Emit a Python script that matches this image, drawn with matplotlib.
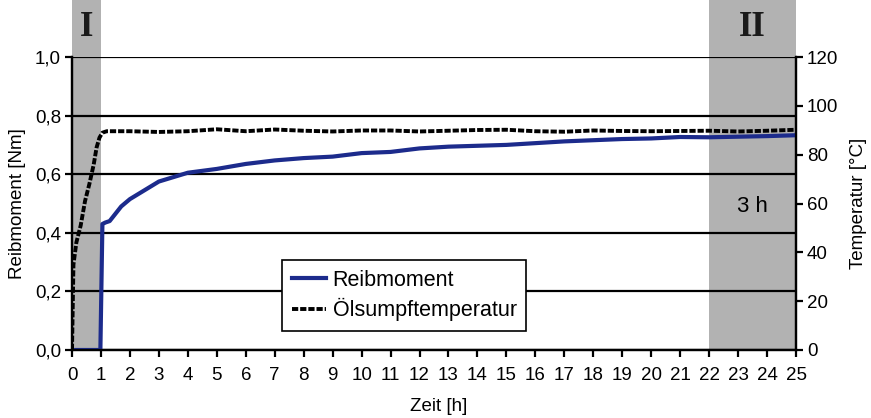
import matplotlib.pyplot as plt
from matplotlib.ticker import FuncFormatter

plt.rcParams['font.family'] = ['Liberation Sans', 'DejaVu Sans']

# Reibmoment [Nm] über der Zeit [h]
zeit_m = [0, 0.98, 1.05, 1.15, 1.3, 1.5, 1.7, 2, 2.5, 3, 3.5, 4, 5, 6, 7, 8, 9,
          10, 11, 12, 13, 14, 15, 16, 17, 18, 19, 20, 21, 22, 23, 24, 25]
reibmoment = [0, 0, 0.43, 0.435, 0.44, 0.465, 0.49, 0.515, 0.545, 0.575, 0.59,
              0.605, 0.618, 0.635, 0.647, 0.655, 0.66, 0.672, 0.676, 0.688,
              0.694, 0.697, 0.70, 0.706, 0.712, 0.716, 0.72, 0.722, 0.727,
              0.726, 0.728, 0.73, 0.733]

# Ölsumpftemperatur [°C]
zeit_t = [0, 0.05, 0.15, 0.3, 0.45, 0.6, 0.75, 0.85, 0.95, 1.05, 1.2, 2, 3, 4,
          5, 6, 7, 8, 9, 10, 11, 12, 13, 14, 15, 16, 17, 18, 19, 20, 21, 22,
          23, 24, 25]
temperatur = [0, 35, 44, 51, 61, 68, 76, 83, 87, 89, 89.6, 89.6, 89.3, 89.6,
              90.4, 89.6, 90.3, 89.8, 89.5, 89.9, 89.9, 89.5, 89.8, 90.1, 90.2,
              89.6, 89.4, 89.9, 89.7, 89.6, 89.7, 89.8, 89.5, 89.8, 90.2]

x_ticks = list(range(0, 26))
links_ticks = [0, 0.2, 0.4, 0.6, 0.8, 1.0]
rechts_ticks = [0, 20, 40, 60, 80, 100, 120]

fig = plt.figure(figsize=(8.71, 4.18), dpi=100)
ax = fig.add_axes([72 / 871, 1 - 350 / 418, 724 / 871, 293 / 418])
ax2 = ax.twinx()

fs = 13.5
grau = '#b2b2b2'
for x0, x1 in [(0, 1), (22, 25)]:
    ax.axvspan(x0, x1, ymin=0, ymax=1.3, color=grau, zorder=0, clip_on=False, lw=0)
ax.text(0.5, 1.1, 'I', transform=ax.get_xaxis_transform(), ha='center',
        va='center', fontsize=25, fontweight='bold', family='Liberation Serif',
        color='#1a1a1a')
ax.text(23.5, 1.1, 'II', transform=ax.get_xaxis_transform(), ha='center',
        va='center', fontsize=25, fontweight='bold', family='Liberation Serif',
        color='#1a1a1a')
ax.text(23.5, 0.49, '3 h', ha='center', va='center', fontsize=16)

ax.set_xlim(0, 25)
ax.set_ylim(0, 1.0)
ax2.set_ylim(0, 120)
ax.set_xticks(x_ticks)
ax.set_yticks(links_ticks)
ax2.set_yticks(rechts_ticks)
ax.yaxis.set_major_formatter(FuncFormatter(lambda v, p: f'{v:.1f}'.replace('.', ',')))

ax.set_axisbelow(True)
ax.yaxis.grid(True, color='black', lw=1.6)
for a in (ax, ax2):
    a.spines['top'].set_visible(False)
    for s in ('left', 'right', 'bottom'):
        a.spines[s].set_linewidth(1.6)
    a.tick_params(direction='out', width=1.6, length=5, labelsize=fs, pad=3)
ax.tick_params(axis='x', pad=7)

l1, = ax.plot(zeit_m, reibmoment, color='#1c2b8c', lw=3, label='Reibmoment',
              solid_joinstyle='round', zorder=3)
l2, = ax2.plot(zeit_t, temperatur, color='black', lw=2.8, ls=(0, (1.6, 0.5)),
               label='Ölsumpftemperatur', zorder=4)

ax.set_xlabel('Zeit [h]', fontsize=fs, labelpad=6)
ax.xaxis.set_label_coords(0.507, -0.165)
ax.set_ylabel('Reibmoment [Nm]', fontsize=fs, labelpad=6)
ax2.set_ylabel('Temperatur [°C]', fontsize=fs, labelpad=8)

leg = ax2.legend(handles=[l1, l2], loc='lower left', bbox_to_anchor=(0.29, 0.065),
                 borderaxespad=0, fontsize=15.5, frameon=True, fancybox=False,
                 framealpha=1, edgecolor='black', handlelength=1.6,
                 borderpad=0.45, labelspacing=0.35, handletextpad=0.3)
leg.get_frame().set_linewidth(1.2)
leg.set_zorder(10)

fig.savefig('out.png', dpi=100)
